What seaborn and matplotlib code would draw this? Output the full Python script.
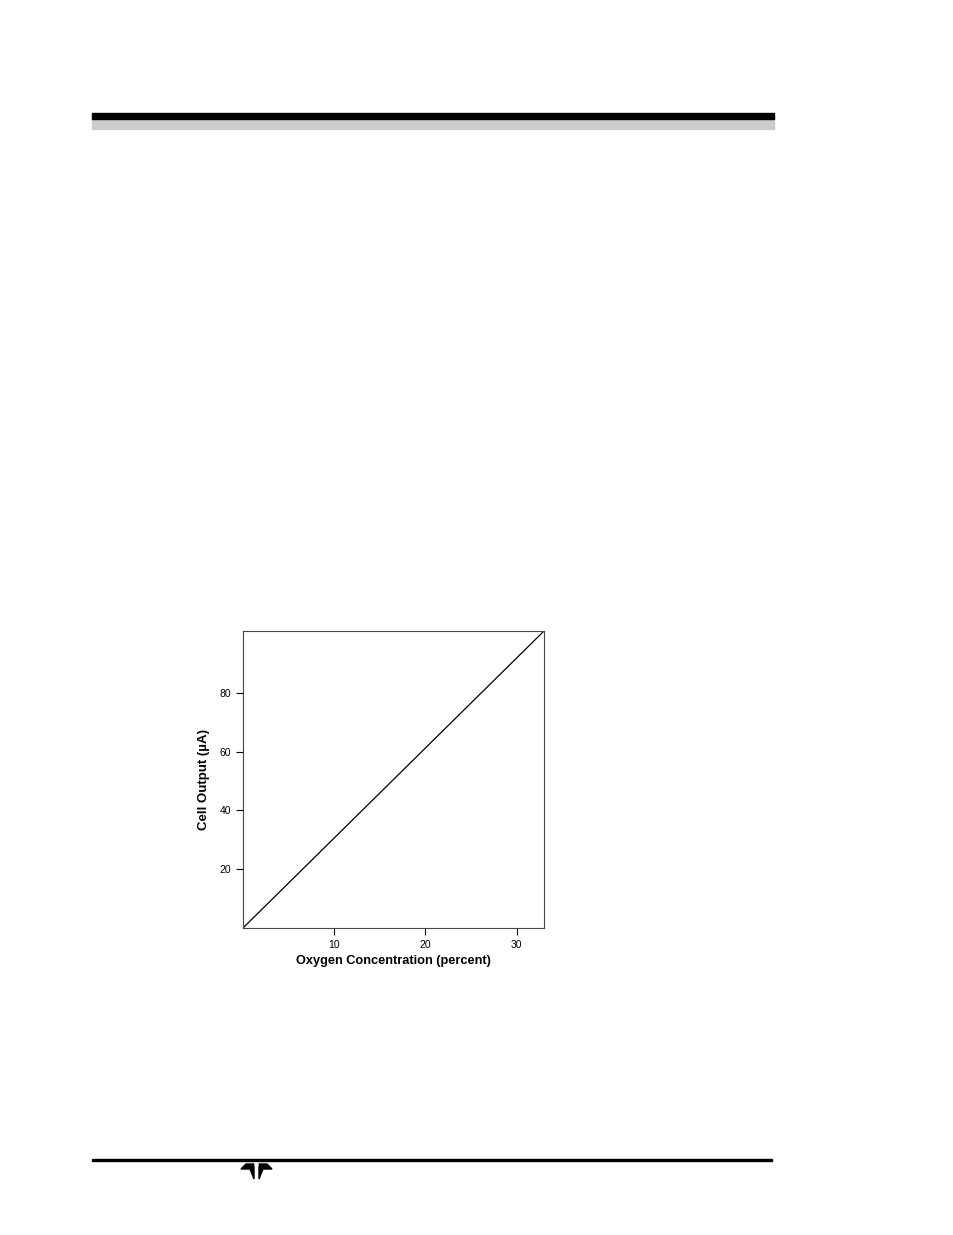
import pandas as pd
import numpy as np
import seaborn as sns
import matplotlib.pyplot as plt
from matplotlib.patches import Rectangle, Polygon

# calibration line: cell output vs oxygen concentration
oxygen_pct = [0, 33]
cell_output_ua = [0, 101]
x_ticks = [10, 20, 30]
y_ticks = [20, 40, 60, 80]

df = pd.DataFrame({"oxygen": oxygen_pct, "output": cell_output_ua})

sns.set_style("ticks")
plt.rcParams['font.family'] = ['Liberation Sans', 'DejaVu Sans']

fig = plt.figure(figsize=(9.54, 12.35), dpi=100)

def px(x, y):
    return (x/954, 1-y/1235)

# page header bars
fig.patches.append(Rectangle(px(92, 129), (774-92)/954, 10/1235,
                             transform=fig.transFigure, color='#cccccc', zorder=1))
fig.patches.append(Rectangle(px(92, 119), (774-92)/954, 6/1235,
                             transform=fig.transFigure, color='black', zorder=2))
# footer rule
fig.patches.append(Rectangle(px(92, 1161), (772-92)/954, 2.5/1235,
                             transform=fig.transFigure, color='black'))
# small logo
for pts in [[(241, 1169), (246, 1164), (254, 1164), (251, 1169)],
            [(250, 1169), (254, 1166), (254, 1179)],
            [(272, 1169), (267, 1164), (259, 1164), (262, 1169)],
            [(263, 1169), (259, 1166), (259, 1179)]]:
    fig.patches.append(Polygon([px(*p) for p in pts], closed=True,
                               transform=fig.transFigure, color='black'))

ax = fig.add_axes([243/954, 1-928/1235, (544-243)/954, (928-631)/1235])
sns.lineplot(data=df, x="oxygen", y="output", color='black', linewidth=0.9, ax=ax)

ax.set_xlim(0, 33)
ax.set_ylim(0, 101)
ax.set_xticks(x_ticks)
ax.set_yticks(y_ticks)
ax.tick_params(direction='out', length=5, width=0.8, labelsize=7.5,
               colors='black', labelcolor='black')
for s in ax.spines.values():
    s.set_linewidth(0.8)
    s.set_color('#444444')
ax.set_xlabel("Oxygen Concentration (percent)", fontsize=9.2, fontweight='bold',
              labelpad=4, color='black')
ax.set_ylabel("Cell Output (µA)", fontsize=9.5, fontweight='bold',
              labelpad=7, color='black')

fig.savefig("out.png", dpi=100)
